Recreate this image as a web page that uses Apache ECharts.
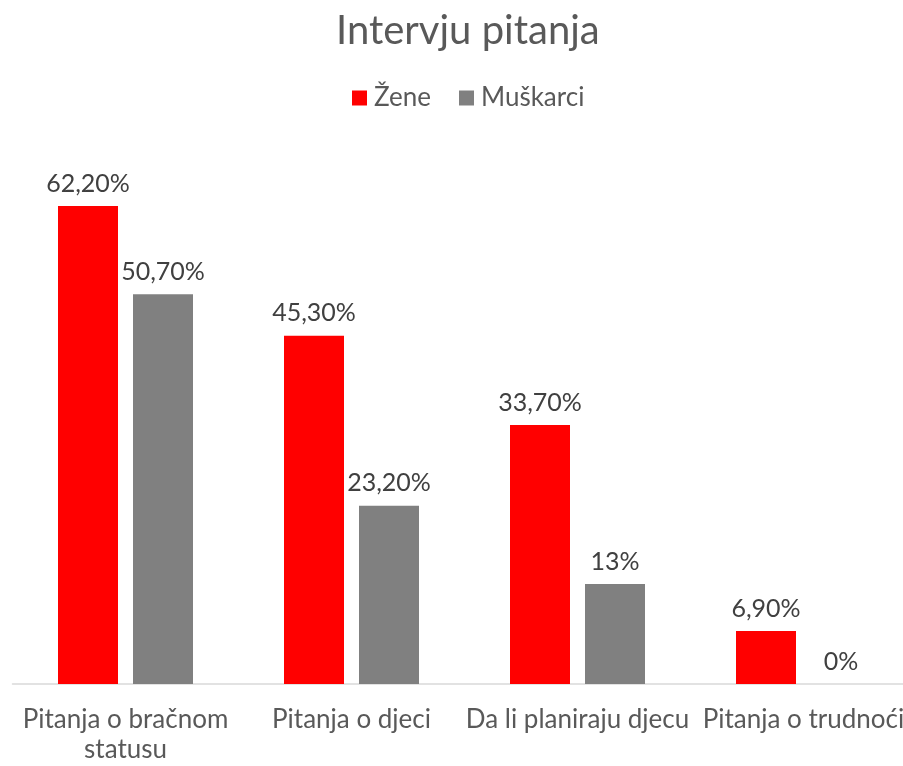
<!DOCTYPE html>
<html>
<head>
<meta charset="utf-8">
<script src="https://cdn.jsdelivr.net/npm/echarts@6/dist/echarts.min.js"></script>
<style>
  html, body { margin: 0; padding: 0; background: #fff; overflow: hidden; }
  /* a bit wider than the window: the last category is cut off at the right edge */
  #chart { width: 930px; height: 766px; }
</style>
</head>
<body>
<div id="chart"></div>
<script>
const categories = ['Pitanja o bračnom\nstatusu', 'Pitanja o djeci', 'Da li planiraju djecu', 'Pitanja o trudnoći'];
const zene = [62.2, 45.3, 33.7, 6.9];
const muskarci = [50.7, 23.2, 13, 0];

const fontFamily = 'Lato';

// Excel style: decimals with comma, whole numbers without
const fmt = (p) => {
    const v = p.value;
    return (Number.isInteger(v) ? String(v) : v.toFixed(2).replace('.', ',')) + '%';
};

const chart = echarts.init(document.getElementById('chart'));
chart.setOption({
    animation: false,
    title: {
        text: 'Intervju pitanja',
        left: 331,
        top: 6,
        textStyle: {
            fontFamily: fontFamily,
            fontSize: 40,
            fontWeight: 'normal',
            color: '#595959'
        }
    },
    legend: {
        top: 80,
        left: 347,
        itemWidth: 15,
        itemHeight: 15,
        itemGap: 28,
        icon: 'rect',
        textStyle: {
            fontFamily: fontFamily,
            fontSize: 26,
            color: '#595959',
            padding: [0, 0, 0, 2]
        },
        data: ['Žene', 'Muškarci']
    },
    grid: {
        left: 12.5,
        right: 13.5,
        top: 146,
        bottom: 82,
        containLabel: false
    },
    xAxis: {
        type: 'category',
        data: categories,
        axisLine: { lineStyle: { color: '#d9d9d9', width: 1.5 } },
        axisTick: { show: false },
        axisLabel: {
            fontFamily: fontFamily,
            fontSize: 26,
            color: '#595959',
            margin: 21,
            lineHeight: 30,
            interval: 0
        }
    },
    yAxis: {
        type: 'value',
        min: 0,
        max: 70,
        show: false
    },
    series: [
        {
            name: 'Žene',
            type: 'bar',
            data: zene,
            barWidth: 60,
            barGap: '25%',
            itemStyle: { color: '#ff0000' },
            label: {
                show: true,
                position: 'top',
                distance: 10,
                formatter: fmt,
                fontFamily: fontFamily,
                fontSize: 25,
                color: '#404040'
            }
        },
        {
            name: 'Muškarci',
            type: 'bar',
            data: muskarci,
            barWidth: 60,
            itemStyle: { color: '#808080' },
            label: {
                show: true,
                position: 'top',
                distance: 10,
                formatter: fmt,
                fontFamily: fontFamily,
                fontSize: 25,
                color: '#404040'
            }
        }
    ]
});
</script>
</body>
</html>
